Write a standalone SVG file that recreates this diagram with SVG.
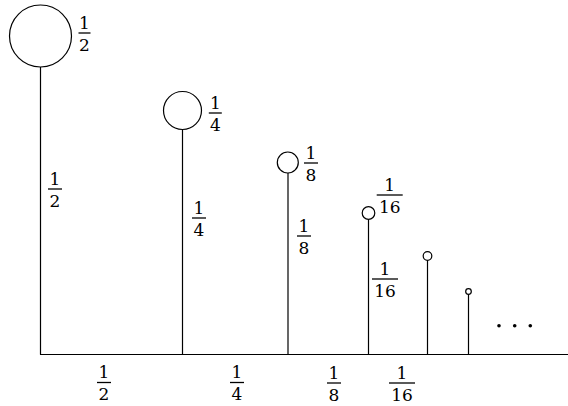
<svg xmlns="http://www.w3.org/2000/svg" width="568" height="406" viewBox="0 0 568 406">
<style>
.ln{stroke:#000;stroke-width:1.2;fill:none}
.c{stroke:#000;stroke-width:1.2;fill:#fff}
.bar{stroke:#000;stroke-width:1.3}
text{font-family:'DejaVu Serif','Liberation Serif',serif;font-size:17px;fill:#000;text-anchor:middle}
.dot{fill:#000}
</style>
<rect width="568" height="406" fill="#fff"/>
<g id="connectors">
<line class="ln" x1="40" y1="354.5" x2="568" y2="354.5"/>
<line class="ln" x1="40.5" y1="67" x2="40.5" y2="354.5"/>
<line class="ln" x1="182.5" y1="129.5" x2="182.5" y2="354.5"/>
<line class="ln" x1="288" y1="173" x2="288" y2="354.5"/>
<line class="ln" x1="368.5" y1="219.3" x2="368.5" y2="354.5"/>
<line class="ln" x1="427.5" y1="260.3" x2="427.5" y2="354.5"/>
<line class="ln" x1="468.5" y1="294.3" x2="468.5" y2="354.5"/>
</g>
<g id="node1">
<circle class="c" cx="40.5" cy="36" r="31"/>
<text x="84.5" y="28.5">1</text><line class="bar" x1="78.5" y1="33" x2="90.5" y2="33"/><text x="84.5" y="50.5">2</text>
</g>
<g id="node2">
<circle class="c" cx="182.5" cy="110.5" r="19"/>
<text x="215.3" y="108.5">1</text><line class="bar" x1="208.8" y1="113" x2="221.8" y2="113"/><text x="215.3" y="130.5">4</text>
</g>
<g id="node3">
<circle class="c" cx="287.8" cy="162.5" r="10.5"/>
<text x="311" y="158.5">1</text><line class="bar" x1="304" y1="163" x2="318" y2="163"/><text x="311" y="180.5">8</text>
</g>
<g id="node4">
<circle class="c" cx="368.5" cy="213" r="6.3"/>
<text x="389.7" y="190.5">1</text><line class="bar" x1="376.7" y1="195" x2="402.7" y2="195"/><text x="389.7" y="212.5">16</text>
</g>
<g id="node5">
<circle class="c" cx="427.5" cy="256" r="4.3"/>
</g>
<g id="node6">
<circle class="c" cx="468.5" cy="291.5" r="2.8"/>
</g>
<g id="heights">
<g id="h1"><text x="55" y="184.5">1</text><line class="bar" x1="48" y1="189" x2="62" y2="189"/><text x="55" y="206.5">2</text></g>
<g id="h2"><text x="199" y="213.5">1</text><line class="bar" x1="192" y1="218" x2="206" y2="218"/><text x="199" y="235.5">4</text></g>
<g id="h3"><text x="304" y="231.5">1</text><line class="bar" x1="297" y1="236" x2="311" y2="236"/><text x="304" y="253.5">8</text></g>
<g id="h4"><text x="385" y="274.5">1</text><line class="bar" x1="372" y1="279" x2="398" y2="279"/><text x="385" y="296.5">16</text></g>
</g>
<g id="widths">
<g id="w1"><text x="104" y="378">1</text><line class="bar" x1="97" y1="382.5" x2="111" y2="382.5"/><text x="104" y="400">2</text></g>
<g id="w2"><text x="237" y="378">1</text><line class="bar" x1="230" y1="382.5" x2="244" y2="382.5"/><text x="237" y="400">4</text></g>
<g id="w3"><text x="334" y="378.5">1</text><line class="bar" x1="327" y1="383" x2="341" y2="383"/><text x="334" y="400.5">8</text></g>
<g id="w4"><text x="402" y="378.5">1</text><line class="bar" x1="389" y1="383" x2="415" y2="383"/><text x="402" y="400.5">16</text></g>
</g>
<g id="ellipsis">
<circle class="dot" cx="499" cy="325.7" r="1.8"/>
<circle class="dot" cx="514.7" cy="325.7" r="1.8"/>
<circle class="dot" cx="530.3" cy="325.7" r="1.8"/>
</g>
</svg>
